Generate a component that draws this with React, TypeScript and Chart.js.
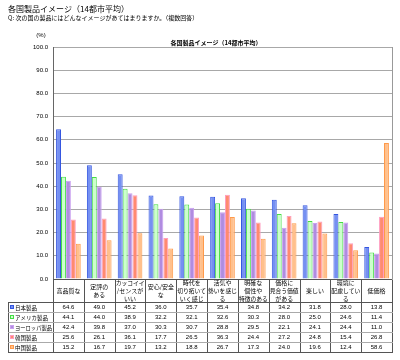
import React, { useEffect, useRef } from "react";
import { Chart, registerables } from "chart.js";

Chart.register(...registerables);

const pageTitle = "各国製品イメージ（14都市平均）";
const question = "Q: 次の国の製品にはどんなイメージがあてはまりますか。（複数回答）";
const chartTitle = "各国製品イメージ（14都市平均）";
const unitLabel = "(%)";

const categories: string[][] = [
  ["高品質な"],
  ["定評の", "ある"],
  ["カッコイイ", "/センスが", "いい"],
  ["安心/安全", "な"],
  ["時代を", "切り拓いて", "いく感じ"],
  ["活気や", "勢いを感じ", "る"],
  ["明確な", "個性や", "特徴のある"],
  ["価格に", "見合う価値", "がある"],
  ["楽しい"],
  ["環境に", "配慮してい", "る"],
  ["低価格"],
];

const seriesNames = ["日本製品", "アメリカ製品", "ヨーロッパ製品", "韓国製品", "中国製品"];

const japan = [64.6, 49.0, 45.2, 36.0, 35.7, 35.4, 34.8, 34.2, 31.8, 28.0, 13.8];
const america = [44.1, 44.0, 38.9, 32.2, 32.1, 32.6, 30.3, 28.0, 25.0, 24.6, 11.4];
const europe = [42.4, 39.8, 37.0, 30.3, 30.7, 28.8, 29.5, 22.1, 24.1, 24.4, 11.0];
const korea = [25.6, 26.1, 36.1, 17.7, 26.5, 36.3, 24.4, 27.2, 24.8, 15.4, 26.8];
const china = [15.2, 16.7, 19.7, 13.2, 18.8, 26.7, 17.3, 24.0, 19.6, 12.4, 58.6];

const seriesValues = [japan, america, europe, korea, china];

const fills = ["#7590f2", "#ccffcc", "#b08ce0", "#ff8a70", "#ffc08c"];
const borders = ["#3556e0", "#44dd44", "#c9a0f0", "#ff9cc0", "#ff9a4a"];

const FONT = "'Liberation Sans', 'Noto Sans CJK JP', sans-serif";
const JFONT = "'Noto Sans CJK JP', 'Liberation Sans', sans-serif";

const HEADER_BOTTOM = 302;
const ROW_H = 10;
const TABLE_LEFT = 8;

const tablePlugin = {
  id: "tablePlugin",
  afterDraw(chart: any) {
    const ctx: CanvasRenderingContext2D = chart.ctx;
    const area = chart.chartArea;
    const xs = chart.scales.x;
    const n = categories.length;
    const colW = area.width / n;
    ctx.save();

    // page titles
    ctx.fillStyle = "#000";
    ctx.textAlign = "left";
    ctx.textBaseline = "middle";
    ctx.font = `8px ${JFONT}`;
    ctx.fillText(pageTitle, 8, 9);
    ctx.font = `6px ${JFONT}`;
    ctx.fillText(question, 8, 18);
    ctx.textAlign = "center";
    ctx.font = `6px ${FONT}`;
    ctx.fillText(unitLabel, 41, 35);
    ctx.font = `bold 6px ${JFONT}`;
    ctx.fillText(chartTitle, 216, 43);

    // plot right border
    ctx.strokeStyle = "#999";
    ctx.lineWidth = 1;
    ctx.beginPath();
    ctx.moveTo(Math.round(area.right) + 0.5, area.top);
    ctx.lineTo(Math.round(area.right) + 0.5, area.bottom);
    ctx.stroke();

    const top = Math.round(area.bottom) + 0.5;
    const tableBottom = HEADER_BOTTOM + ROW_H * seriesNames.length + 0.5;

    // vertical lines
    ctx.strokeStyle = "#555";
    for (let i = 0; i <= n; i++) {
      const x = i < n ? xs.getPixelForValue(i) - colW / 2 : xs.getPixelForValue(n - 1) + colW / 2;
      const px = Math.round(x) + 0.5;
      ctx.beginPath();
      ctx.moveTo(px, top);
      ctx.lineTo(px, tableBottom);
      ctx.stroke();
    }
    ctx.beginPath();
    ctx.moveTo(TABLE_LEFT + 0.5, HEADER_BOTTOM + 0.5);
    ctx.lineTo(TABLE_LEFT + 0.5, tableBottom);
    ctx.stroke();

    // horizontal lines
    ctx.beginPath();
    ctx.moveTo(area.left, top);
    ctx.lineTo(area.right, top);
    ctx.stroke();
    for (let r = 0; r <= seriesNames.length; r++) {
      const y = HEADER_BOTTOM + r * ROW_H + 0.5;
      ctx.strokeStyle = r === 0 || r === seriesNames.length ? "#555" : "#aaa";
      ctx.beginPath();
      ctx.moveTo(TABLE_LEFT, y);
      ctx.lineTo(Math.round(area.right) + 1, y);
      ctx.stroke();
    }

    // header labels
    ctx.fillStyle = "#000";
    ctx.font = `6px ${JFONT}`;
    ctx.textAlign = "center";
    const headerMid = (area.bottom + HEADER_BOTTOM) / 2;
    const lh = 8;
    categories.forEach((lines, i) => {
      const cx = xs.getPixelForValue(i);
      const startY = headerMid - ((lines.length - 1) * lh) / 2;
      lines.forEach((ln, k) => ctx.fillText(ln, cx, startY + k * lh, colW - 2));
    });

    // rows
    const nameMaxW = area.left - 16;
    seriesNames.forEach((name, r) => {
      const cy = HEADER_BOTTOM + r * ROW_H + ROW_H / 2 + 0.5;
      ctx.fillStyle = fills[r];
      ctx.fillRect(10, cy - 2.5, 4, 4);
      ctx.strokeStyle = borders[r];
      ctx.strokeRect(10.5, cy - 2, 3, 3);
      ctx.fillStyle = "#000";
      ctx.textAlign = "left";
      ctx.font = `5.5px ${JFONT}`;
      ctx.fillText(name, 15, cy, nameMaxW);
      ctx.textAlign = "center";
      ctx.font = `6px ${FONT}`;
      seriesValues[r].forEach((v, i) => {
        ctx.fillText(v.toFixed(1), xs.getPixelForValue(i), cy);
      });
    });

    ctx.restore();
  },
};

export default function App() {
  const ref = useRef<HTMLCanvasElement | null>(null);
  useEffect(() => {
    if (!ref.current) return;
    const chart = new Chart(ref.current, {
      type: "bar",
      data: {
        labels: categories.map((c) => c.join("")),
        datasets: seriesNames.map((name, i) => ({
          label: name,
          data: seriesValues[i],
          backgroundColor: fills[i],
          borderColor: borders[i],
          borderWidth: 1,
          categoryPercentage: 0.8,
          barPercentage: 1.0,
        })),
      },
      options: {
        responsive: false,
        animation: false,
        devicePixelRatio: 1,
        layout: { padding: { top: 47, left: 0, right: 8, bottom: 81 } },
        plugins: {
          legend: { display: false },
          tooltip: { enabled: false },
          title: { display: false },
        },
        scales: {
          x: { display: false },
          y: {
            min: 0,
            max: 100,
            afterFit: (s: any) => {
              s.width = 53;
            },
            ticks: {
              stepSize: 10,
              padding: 5,
              color: "#000",
              font: { size: 6, family: FONT },
              callback: (v: any) => Number(v).toFixed(1),
            },
            grid: { color: "#a8a8a8", drawTicks: false, tickLength: 0 },
            border: { display: true, color: "#666" },
          },
        },
      },
      plugins: [tablePlugin],
    });
    return () => chart.destroy();
  }, []);
  return (
    <div style={{ position: "fixed", left: 0, top: 0, width: 400, height: 360, background: "#fff" }}>
      <canvas ref={ref} width={400} height={360} style={{ display: "block" }} />
    </div>
  );
}
